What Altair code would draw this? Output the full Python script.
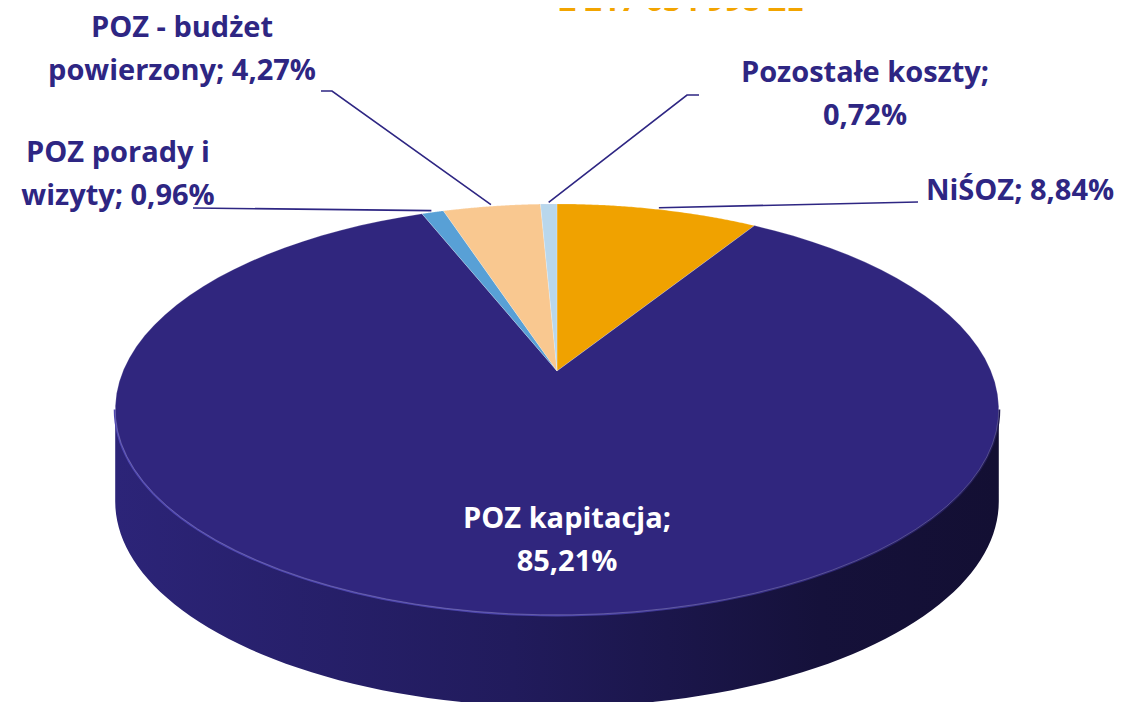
import altair as alt
import pandas as pd

# ---------------- data ----------------
categories = ["NiŚOZ", "POZ kapitacja", "POZ porady i wizyty",
              "POZ - budżet powierzony", "Pozostałe koszty"]
shares = [8.84, 85.21, 0.96, 4.27, 0.72]
label_templates = ["NiŚOZ; {}", "POZ kapitacja;\n{}", "POZ porady i\nwizyty; {}",
                   "POZ - budżet\npowierzony; {}", "Pozostałe koszty;\n{}"]
title_text = "2 217 634 998 ZŁ"

# ---------------- styles / layout ----------------
slice_colors = ["#F0A200", "#30267E", "#58A0D6", "#F9C890", "#B9D7EC"]
LABEL_COLOR = "#2E2683"
TITLE_COLOR = "#F2A400"
FONT = "Open Sans"
FONT_SIZE = 29

# label anchor (center x, first baseline y) in page pixels
label_x = [1020, 567, 118, 182, 865]
label_y = [200, 528, 162, 37, 82]
# leader line start / elbow (None = no leader)
lead_x0 = [918, None, 193, 321, 699]
lead_y0 = [202, None, 208, 91, 95]
lead_x1 = [918, None, 193, 332, 687]
lead_y1 = [202, None, 208, 91, 95]

# perspective projection of the pie disc
CX, CY = 557, 371
A, B, K = 434, 198.3, 0.187
T = 92          # side thickness
N = 90          # points per arc
R_LEAD = 1.012

W, H = 1106, 694
xs = alt.Scale(domain=[8, 8 + W], nice=False, zero=False)
ys = alt.Scale(domain=[8, 8 + H], nice=False, zero=False, reverse=True)


def fmt(p):
    return f"{p:.2f}".replace(".", ",") + "%"


df = pd.DataFrame({"cat": categories, "share": shares, "ord": list(range(len(categories)))})
df["label"] = [t.format(fmt(p)) for t, p in zip(label_templates, shares)]
df["lx"] = label_x
df["ly"] = label_y
df["lx0"] = lead_x0
df["ly0"] = lead_y0
df["lx1"] = lead_x1
df["ly1"] = lead_y1

base = alt.Chart(df).transform_window(
    cum="sum(share)", sort=[alt.SortField("ord", order="ascending")], frame=[None, 0]
).transform_calculate(
    a0="2*PI*(datum.cum - datum.share)/100"
).transform_calculate(
    a1="2*PI*datum.cum/100"
)


def project(ch, off="0"):
    return ch.transform_calculate(
        px=f"{CX} + {A} * datum.u / (1 + {K} * datum.v)"
    ).transform_calculate(
        py=f"{CY} - {B} * datum.v / (1 + {K} * datum.v) + {off}"
    )


# ---- side (front wall of the disc) ----
side_base = base.transform_filter(
    "datum.a0 <= PI && datum.a1 >= PI"
).transform_calculate(
    s0=f"max(datum.a0, acos(-{K}))"
).transform_calculate(
    s1=f"min(datum.a1, 2*PI - acos(-{K}))"
).transform_calculate(
    pts=f"sequence(0, {2 * N + 2})"
).transform_flatten(["pts"], as_=["i"]).transform_calculate(
    j=f"datum.i <= {N} ? datum.i : {2 * N + 1} - datum.i"
).transform_calculate(
    off=f"datum.i <= {N} ? 0 : {T}"
).transform_calculate(
    a=f"datum.s0 + (datum.s1 - datum.s0) * datum.j / {N}"
).transform_calculate(
    u="sin(datum.a)"
).transform_calculate(
    v="cos(datum.a)"
)
side_base = project(side_base, "datum.off")

side_grad = alt.Gradient(
    gradient="linear",
    stops=[alt.GradientStop(color="#2C2478", offset=0),
           alt.GradientStop(color="#211B5C", offset=0.45),
           alt.GradientStop(color="#15113A", offset=0.8),
           alt.GradientStop(color="#130F33", offset=1)],
    x1=0, x2=1, y1=0, y2=0,
)
side = side_base.mark_line(filled=True, interpolate="linear-closed", fill=side_grad).encode(
    x=alt.X("px:Q", scale=xs, axis=None),
    y=alt.Y("py:Q", scale=ys, axis=None),
    order=alt.Order("i:Q"),
)

bevel_grad = alt.Gradient(
    gradient="linear",
    stops=[alt.GradientStop(color="#4E46B0", offset=0),
           alt.GradientStop(color="#4A42A8", offset=0.5),
           alt.GradientStop(color="#2A2270", offset=0.85),
           alt.GradientStop(color="#1E1850", offset=1)],
    x1=0, x2=1, y1=0, y2=0,
)
bevel = side_base.transform_filter(f"datum.i <= {N}").mark_line(
    stroke=bevel_grad, strokeWidth=3
).encode(
    x=alt.X("px:Q", scale=xs, axis=None),
    y=alt.Y("py:Q", scale=ys, axis=None),
    order=alt.Order("i:Q"),
)

# ---- top face slices ----
top_base = base.transform_calculate(
    pts=f"sequence(0, {N + 2})"
).transform_flatten(["pts"], as_=["i"]).transform_calculate(
    a=f"datum.a0 + (datum.a1 - datum.a0) * min(datum.i, {N}) / {N}"
).transform_calculate(
    u=f"datum.i > {N} ? 0 : sin(datum.a)"
).transform_calculate(
    v=f"datum.i > {N} ? 0 : cos(datum.a)"
)
top_base = project(top_base)
top = top_base.mark_line(
    filled=True, interpolate="linear-closed", stroke="#ffffff", strokeWidth=0.6, strokeOpacity=0.35
).encode(
    x=alt.X("px:Q", scale=xs, axis=None),
    y=alt.Y("py:Q", scale=ys, axis=None),
    order=alt.Order("i:Q"),
    color=alt.Color("cat:N", scale=alt.Scale(domain=categories, range=slice_colors), legend=None),
)

# ---- leader lines ----
lead_base = base.transform_filter("isValid(datum.lx0)").transform_calculate(
    mid="(datum.a0 + datum.a1) / 2"
).transform_calculate(
    u=f"{R_LEAD} * sin(datum.mid)"
).transform_calculate(
    v=f"{R_LEAD} * cos(datum.mid)"
)
lead_base = project(lead_base).transform_calculate(
    pts="sequence(0, 3)"
).transform_flatten(["pts"], as_=["i"]).transform_calculate(
    qx="datum.i == 0 ? datum.lx0 : (datum.i == 1 ? datum.lx1 : datum.px)"
).transform_calculate(
    qy="datum.i == 0 ? datum.ly0 : (datum.i == 1 ? datum.ly1 : datum.py)"
)
leaders = lead_base.mark_line(color=LABEL_COLOR, strokeWidth=1.6).encode(
    x=alt.X("qx:Q", scale=xs, axis=None),
    y=alt.Y("qy:Q", scale=ys, axis=None),
    order=alt.Order("i:Q"),
    detail="cat:N",
)

# ---- labels ----
labels = alt.Chart(df).mark_text(
    font=FONT, fontWeight="bold", fontSize=FONT_SIZE, align="center",
    baseline="alphabetic", lineBreak="\n", lineHeight=43,
).encode(
    x=alt.X("lx:Q", scale=xs, axis=None),
    y=alt.Y("ly:Q", scale=ys, axis=None),
    text="label:N",
    color=alt.condition("datum.cat == 'POZ kapitacja'", alt.value("#FFFFFF"), alt.value(LABEL_COLOR)),
)

title_df = pd.DataFrame({"t": [title_text], "x": [681], "y": [11]})
title = alt.Chart(title_df).mark_text(
    font=FONT, fontWeight="bold", fontSize=31, align="center", baseline="alphabetic",
    color=TITLE_COLOR,
).encode(
    x=alt.X("x:Q", scale=xs, axis=None),
    y=alt.Y("y:Q", scale=ys, axis=None),
    text="t:N",
)

chart = alt.layer(side, bevel, top, leaders, labels, title).properties(
    width=W, height=H, padding=0, autosize=alt.AutoSizeParams(type="none"),
    background="#FFFFFF",
).configure_view(stroke=None)

chart.save("out.html", embed_options={"renderer": "svg", "actions": False})
